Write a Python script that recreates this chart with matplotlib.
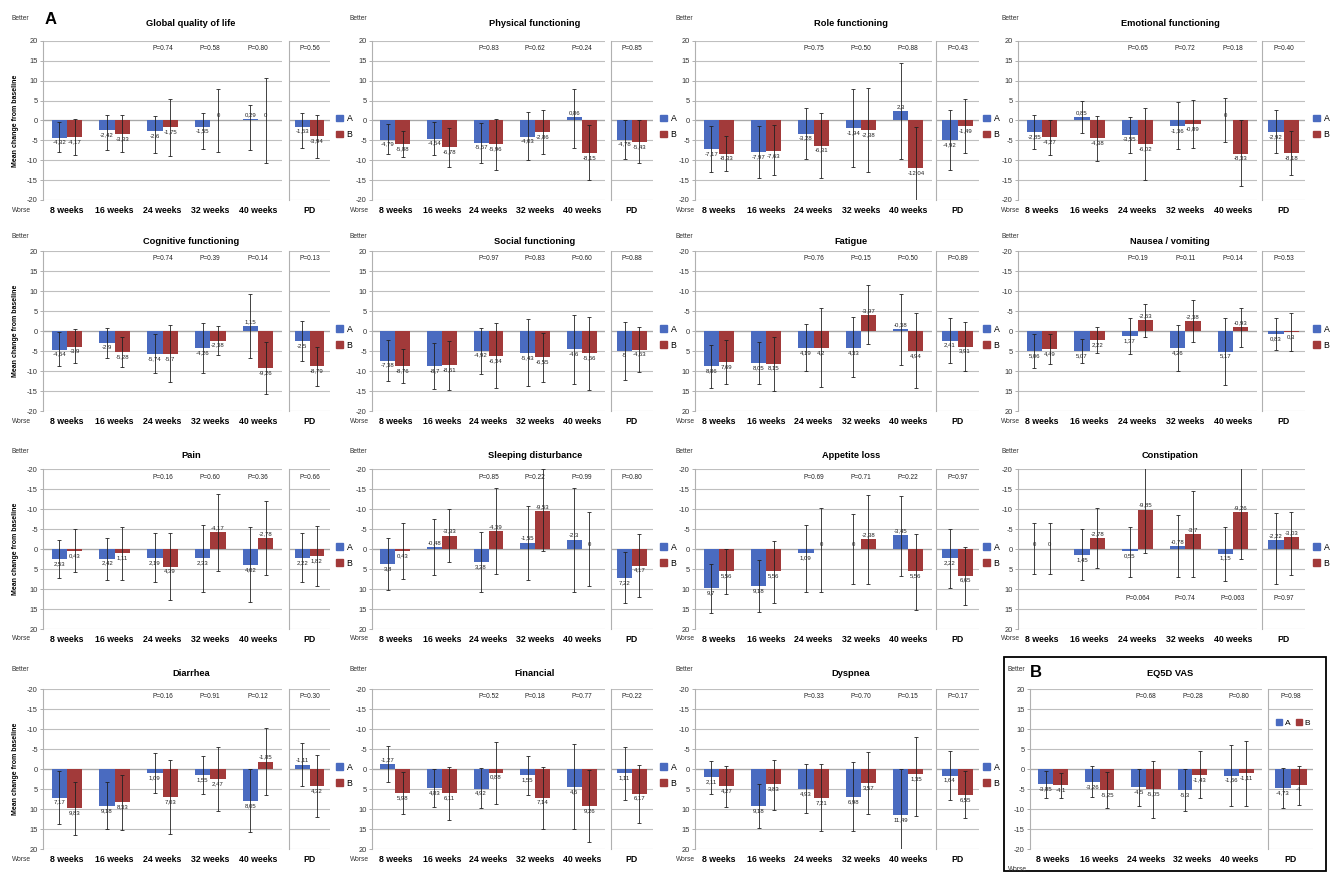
import numpy as np
import matplotlib
matplotlib.use('Agg')
import matplotlib.pyplot as plt
from matplotlib.patches import Patch, Rectangle

plt.rcParams['font.family'] = ['Liberation Sans', 'DejaVu Sans']
plt.rcParams['axes.unicode_minus'] = False

W, H = 1333, 872
BLUE = '#4a6bc0'
RED = '#a23a3a'
GRID = '#bfbfbf'

groups = ['8 weeks', '16 weeks', '24 weeks', '32 weeks', '40 weeks']

titles = ['Global quality of life', 'Physical functioning', 'Role functioning',
          'Emotional functioning', 'Cognitive functioning', 'Social functioning',
          'Fatigue', 'Nausea / vomiting', 'Pain', 'Sleeping disturbance',
          'Appetite loss', 'Constipation', 'Diarrhea', 'Financial', 'Dyspnea',
          'EQ5D VAS']

# symptom scales are drawn with the axis flipped (-20 on top = better)
inverted = [False] * 6 + [True] * 9 + [False]

# mean change from baseline: 8, 16, 24, 32, 40 weeks, PD
mean_a = [
    [-4.32, -2.42, -2.6, -1.55, 0.29, -1.53],
    [-4.79, -4.54, -5.57, -4.03, 0.86, -4.78],
    [-7.17, -7.97, -3.28, -1.94, 2.3, -4.92],
    [-2.85, 0.85, -3.55, -1.36, 0, -2.92],
    [-4.64, -2.9, -5.74, -4.26, 1.15, -2.5],
    [-7.38, -8.7, -4.92, -5.43, -4.6, -5],
    [8.86, 8.05, 4.19, 4.33, -0.38, 2.41],
    [5.06, 5.07, 1.37, 4.26, 5.17, 0.83],
    [2.53, 2.42, 2.19, 2.33, 4.02, 2.22],
    [3.8, -0.48, 3.28, -1.55, -2.3, 7.22],
    [9.7, 9.18, 1.09, 0, -3.45, 2.22],
    [0, 1.45, 0.55, -0.78, 1.15, -2.22],
    [7.17, 9.18, 1.09, 1.55, 8.05, -1.11],
    [-1.27, 4.83, 4.92, 1.55, 4.6, 1.11],
    [2.11, 9.18, 4.93, 6.98, 11.49, 1.64],
    [-3.85, -3.26, -4.5, -5.3, -1.66, -4.73],
]
mean_b = [
    [-4.17, -3.33, -1.75, 0, 0, -3.94],
    [-5.88, -6.78, -5.96, -2.86, -8.15, -5.43],
    [-8.33, -7.63, -6.31, -2.38, -12.04, -1.49],
    [-4.27, -4.38, -6.02, -0.89, -8.33, -8.18],
    [-3.9, -5.28, -5.7, -2.38, -9.26, -8.79],
    [-8.76, -8.61, -6.34, -6.55, -5.56, -4.63],
    [7.69, 8.15, 4.2, -3.97, 4.94, 3.91],
    [4.49, 2.22, -2.63, -2.38, -0.93, 0.3],
    [0.43, 1.11, 4.39, -4.17, -2.78, 1.82],
    [0.43, -3.33, -4.39, -9.53, 0, 4.17],
    [5.56, 5.56, 0, -2.38, 5.56, 6.65],
    [0, -2.78, -9.85, -3.7, -9.26, -3.03],
    [9.83, 8.33, 7.03, 2.47, -1.85, 4.32],
    [5.98, 6.11, 0.88, 7.14, 9.26, 6.17],
    [4.27, 3.83, 7.21, 3.57, 1.35, 6.55],
    [-4.1, -5.25, -5.05, -1.43, -1.11, -4],
]

# error bar ends (low / high)
lo_a = [
    [-8.0, -7.4, -8.2, -7.2, -7.3, -6.8],
    [-8.5, -8.7, -10.6, -10.0, -7.0, -9.75],
    [-12.9, -14.4, -9.7, -11.7, -9.8, -12.5],
    [-7.1, -3.2, -8.2, -7.2, -5.4, -8.2],
    [-8.75, -6.7, -10.6, -10.6, -6.8, -7.5],
    [-12.5, -14.4, -10.7, -13.75, -13.2, -12.25],
    [3.4, 2.7, -1.7, -3.5, -9.3, -3.3],
    [0.7, 2.1, -3.2, -1.5, -3.2, -3.3],
    [-2.3, -2.75, -4.0, -6.0, -5.4, -3.9],
    [-2.7, -7.5, -4.2, -10.8, -15.2, 0.7],
    [3.75, 2.75, -6.0, -8.7, -13.25, -5.0],
    [-6.4, -4.9, -5.6, -8.5, -5.6, -8.9],
    [0.6, 3.3, -4.0, -3.3, 0.0, -6.5],
    [-5.75, 0.1, -0.2, -3.3, -6.2, -5.6],
    [-2.1, 3.75, -1.25, -1.7, 0.0, -4.4],
    [-7.3, -7.1, -9.2, -10.4, -9.3, -9.75],
]
hi_a = [
    [-0.3, 1.3, 1.2, 2.0, 3.8, 2.0],
    [-1.0, -0.4, -0.7, 2.1, 7.9, 0.25],
    [-1.5, -1.5, 3.25, 7.8, 14.5, 2.7],
    [1.4, 4.9, 1.0, 4.6, 5.6, 2.7],
    [-0.3, 0.8, -0.8, 2.1, 9.2, 2.5],
    [-2.2, -2.9, 0.8, 2.9, 4.0, 2.25],
    [14.2, 13.3, 10.0, 11.5, 8.6, 8.1],
    [9.3, 8.1, 5.7, 10.0, 13.5, 4.75],
    [7.3, 7.7, 8.3, 10.7, 13.3, 8.3],
    [10.2, 6.5, 10.7, 7.7, 10.7, 13.6],
    [16.1, 15.7, 10.7, 8.75, 6.7, 9.8],
    [6.3, 7.8, 6.9, 6.9, 8.0, 8.75],
    [13.75, 15.0, 6.1, 6.25, 15.7, 4.2],
    [3.2, 9.6, 9.8, 6.5, 15.1, 7.75],
    [6.25, 14.75, 11.1, 15.6, 23.0, 7.75],
    [-0.4, 0.7, 0.0, 0.0, 6.1, 0.25],
]
lo_b = [
    [-8.6, -8.0, -8.9, -7.8, -10.8, -9.4],
    [-9.2, -11.8, -12.5, -8.5, -15.0, -10.6],
    [-12.6, -13.8, -14.4, -12.9, -22.3, -8.3],
    [-8.6, -10.1, -15.0, -6.9, -16.4, -13.8],
    [-8.1, -8.9, -12.8, -6.0, -15.8, -13.7],
    [-13.0, -14.75, -14.2, -12.7, -14.75, -10.3],
    [2.2, 1.4, -5.7, -11.4, -4.5, -2.3],
    [0.7, -1.1, -6.8, -7.7, -5.8, -4.6],
    [-5.0, -5.6, -4.0, -13.75, -12.1, -5.8],
    [-6.5, -10.0, -15.2, -19.9, -9.2, -3.75],
    [0.1, -2.0, -10.3, -13.5, -3.75, -0.6],
    [-6.4, -10.3, -20.6, -14.5, -21.0, -9.2],
    [3.2, 1.5, -2.3, -5.4, -10.2, -3.5],
    [0.7, -0.6, -6.8, -0.6, 0.25, -1.0],
    [-0.8, -2.3, -1.25, -4.2, -7.9, 0.6],
    [-7.3, -9.75, -12.3, -7.25, -9.3, -8.9],
]
hi_b = [
    [0.4, 1.5, 5.5, 7.8, 10.8, 1.5],
    [-2.7, -1.8, 0.5, 2.7, -1.2, 0.0],
    [-4.0, -1.25, 1.8, 8.1, -1.75, 5.4],
    [0.0, 1.25, 3.25, 5.25, 0.0, -2.6],
    [0.4, -1.6, 1.5, 1.3, -2.7, -3.9],
    [-4.4, -2.5, 2.1, -0.4, 3.6, 1.1],
    [13.3, 15.0, 13.9, 3.3, 14.2, 10.0],
    [8.3, 5.4, 1.5, 2.75, 4.0, 5.0],
    [5.8, 7.7, 12.7, 5.4, 6.5, 9.3],
    [7.5, 3.3, 6.25, 0.4, 9.2, 12.1],
    [11.3, 13.4, 10.7, 8.75, 15.25, 14.0],
    [6.3, 4.7, 0.9, 7.1, 2.5, 6.5],
    [16.5, 15.2, 16.25, 10.4, 6.5, 11.9],
    [11.25, 12.75, 8.75, 15.0, 18.2, 13.4],
    [9.4, 10.25, 15.6, 11.25, 11.7, 12.3],
    [-1.0, -0.8, 2.1, 4.4, 7.1, 0.8],
]

# P values for 24, 32, 40 weeks and PD
p_values = [
    ['0.74', '0.58', '0.80', '0.56'],
    ['0.83', '0.62', '0.24', '0.85'],
    ['0.75', '0.50', '0.88', '0.43'],
    ['0.65', '0.72', '0.18', '0.40'],
    ['0.74', '0.39', '0.14', '0.13'],
    ['0.97', '0.83', '0.60', '0.88'],
    ['0.76', '0.15', '0.50', '0.89'],
    ['0.19', '0.11', '0.14', '0.53'],
    ['0.16', '0.60', '0.36', '0.66'],
    ['0.85', '0.22', '0.99', '0.80'],
    ['0.69', '0.71', '0.22', '0.97'],
    ['0.064', '0.74', '0.063', '0.97'],
    ['0.16', '0.91', '0.12', '0.30'],
    ['0.52', '0.18', '0.77', '0.22'],
    ['0.33', '0.70', '0.15', '0.17'],
    ['0.68', '0.28', '0.80', '0.98'],
]
p_below = [False] * 11 + [True] + [False] * 4

# panel layout in pixels
col_main = [(43, 282), (372, 605), (695, 932), (1018, 1257)]
col_pd = [(289, 330), (611, 653), (936, 979), (1262, 1305)]
row_top = [41, 251, 469, 689]
row_bot = [200, 411, 629, 849]
title_x = [191, 535, 851, 1170]
title_y = [23, 241, 455, 673]
better_x = [12, 350, 676, 1001]
legend_x = [336, 660, 983, 1313]


def rect(x0, x1, top, bot):
    return [x0 / W, 1 - bot / H, (x1 - x0) / W, (bot - top) / H]


def fmt(v):
    return f'{v:g}'.replace('.', ',')


def style(ax, inv):
    ax.set_ylim(-20, 20)
    if inv:
        ax.invert_yaxis()
    ax.set_yticks(range(-20, 21, 5))
    ax.grid(axis='y', color=GRID, lw=0.8)
    ax.set_axisbelow(True)
    for s in ['top', 'right', 'bottom']:
        ax.spines[s].set_visible(False)
    ax.spines['left'].set_color('#b0b0b0')
    ax.spines['left'].set_linewidth(0.8)
    ax.axhline(0, color='#a8a8a8', lw=0.9, zorder=1)
    ax.tick_params(axis='y', length=2.5, width=0.7, color='#b0b0b0',
                   labelsize=5.4, pad=1.2, labelcolor='#333333')
    ax.tick_params(axis='x', length=0, pad=4)
    ax.patch.set_alpha(0)


def bars(ax, xs, k, idx, inv):
    w = 0.32
    ekw = dict(elinewidth=0.6, capthick=0.6, ecolor='#222222')
    for off, vals, lo, hi, col in [(-w / 2, mean_a[k], lo_a[k], hi_a[k], BLUE),
                                   (w / 2, mean_b[k], lo_b[k], hi_b[k], RED)]:
        v = np.array([vals[i] for i in idx])
        l = np.array([lo[i] for i in idx])
        h = np.array([hi[i] for i in idx])
        ax.bar(xs + off, v, w, color=col, zorder=2,
               yerr=[v - l, h - v], capsize=1.2, error_kw=ekw)
        for x, val in zip(xs + off, v):
            up = val <= 0 if inv else val >= 0
            ax.annotate(fmt(val), (x, val), xytext=(0, 1.5 if up else -1.5),
                        textcoords='offset points', ha='center',
                        va='bottom' if up else 'top', fontsize=4.3,
                        color='#222222', zorder=4)


fig = plt.figure(figsize=(W / 100, H / 100), dpi=100)

for k in range(16):
    r, c = divmod(k, 4)
    inv = inverted[k]
    top, bot = row_top[r], row_bot[r]
    (m0, m1), (p0, p1) = col_main[c], col_pd[c]
    if k == 15:
        (m0, m1), (p0, p1) = (1030, 1262), (1268, 1313)

    ax = fig.add_axes(rect(m0, m1, top, bot))
    axp = fig.add_axes(rect(p0, p1, top, bot))
    style(ax, inv)
    style(axp, inv)
    axp.tick_params(axis='y', length=0, labelleft=False)

    xs = np.arange(5)
    ax.set_xlim(-0.5, 4.5)
    bars(ax, xs, k, range(5), inv)
    ax.set_xticks(xs)
    ax.set_xticklabels(groups, fontsize=6.3, fontweight='bold')

    axp.set_xlim(-0.45, 0.45)
    bars(axp, np.array([0.0]), k, [5], inv)
    axp.set_xticks([0])
    axp.set_xticklabels(['PD'], fontsize=6.3, fontweight='bold')

    # P values
    if p_below[k]:
        py = 12.3
    else:
        py = -18 if inv else 18
    for j, g in enumerate([2, 3, 4]):
        ax.text(g, py, 'P=' + p_values[k][j], ha='center', va='center',
                fontsize=4.7, color='#222222')
    axp.text(0, py, 'P=' + p_values[k][3], ha='center', va='center',
             fontsize=4.7, color='#222222')

    # titles and side labels
    fig.text(title_x[c] / W, 1 - title_y[r] / H, titles[k], ha='center',
             va='center', fontsize=6.7, fontweight='bold')
    bx = 1008 if k == 15 else better_x[c]
    fig.text(bx / W, 1 - (title_y[r] - 4) / H, 'Better', ha='left',
             va='center', fontsize=4.8, color='#333333')
    wy = 869 if k == 15 else bot + 10
    fig.text(bx / W, 1 - wy / H, 'Worse', ha='left', va='center',
             fontsize=4.8, color='#333333')
    if c == 0:
        fig.text(16 / W, 1 - (top + bot) / 2 / H, 'Mean change from baseline',
                 rotation=90, ha='center', va='center', fontsize=5,
                 fontweight='bold')

    handles = [Patch(color=BLUE, label='A'), Patch(color=RED, label='B')]
    if k == 15:
        fig.legend(handles=handles, loc='center',
                   bbox_to_anchor=(1293 / W, 1 - 723 / H), ncol=2,
                   frameon=False, fontsize=6, handlelength=0.8,
                   handleheight=0.8, handletextpad=0.3, columnspacing=0.6,
                   borderpad=0, borderaxespad=0)
    else:
        zero_y = (top + bot) / 2
        fig.legend(handles=handles, loc='center left',
                   bbox_to_anchor=(legend_x[c] / W, 1 - (zero_y + 6) / H),
                   frameon=False, fontsize=6.3, handlelength=0.8,
                   handleheight=0.8, handletextpad=0.4, labelspacing=0.8,
                   borderpad=0, borderaxespad=0)

fig.text(45 / W, 1 - 19 / H, 'A', fontsize=12, fontweight='bold', va='center')
fig.text(1030 / W, 1 - 672 / H, 'B', fontsize=12, fontweight='bold',
         va='center')
fig.add_artist(Rectangle((1004 / W, 1 / H), 322 / W, 214 / H,
                         transform=fig.transFigure, fill=False, lw=1.3,
                         ec='black'))

fig.savefig('out.png', dpi=100)
